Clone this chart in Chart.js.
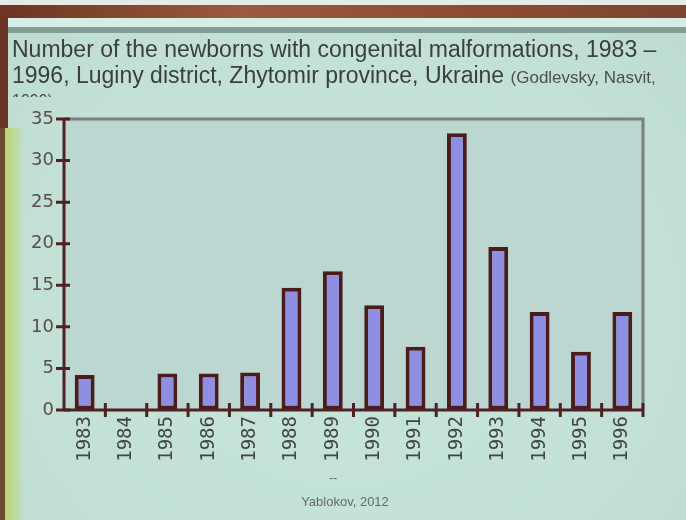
<!DOCTYPE html>
<html>
<head>
<meta charset="utf-8">
<script src="https://cdn.jsdelivr.net/npm/chart.js@4.4.1/dist/chart.umd.min.js"></script>
<style>
html,body{margin:0;padding:0;width:686px;height:520px;overflow:hidden;background:#c4e2d9;}
#wrap{position:relative;width:686px;height:520px;overflow:hidden;
  background:radial-gradient(ellipse at 50% 60%, #c6e5db 0%, #c2e0d6 70%, #bcdbd0 100%);}
.abs{position:absolute;}
#title{left:12px;top:36px;width:674px;height:61px;overflow:hidden;
  font-family:"Liberation Sans",Arial,sans-serif;font-size:23px;line-height:26px;color:#3b3f3e;white-space:nowrap;}
#title .small{font-size:17px;color:#4a4f4e;}
#title .l3{font-size:16px;line-height:20px;color:#4a4f4e;}
#foot1,#foot2{font-family:"Liberation Sans",Arial,sans-serif;color:#666b69;white-space:nowrap;}
</style>
</head>
<body>
<div id="wrap">
  <div class="abs" style="left:0;top:0;width:686px;height:5px;background:#e4ebe6"></div>
  <div class="abs" style="left:0;top:5px;width:686px;height:13px;background:linear-gradient(90deg,#6e3422,#9a5a3c 35%,#8c4c32 70%,#7e4430)"></div>
  <div class="abs" style="left:0;top:18px;width:686px;height:9px;background:#d4ede5"></div>
  <div class="abs" style="left:0;top:27px;width:686px;height:6px;background:#849d94"></div>
  <div class="abs" style="left:0;top:18px;width:8px;height:110px;background:#6a3424"></div>
  <div class="abs" style="left:0;top:128px;width:5px;height:392px;background:#6b4a30"></div>
  <div class="abs" style="left:5px;top:128px;width:20px;height:392px;background:linear-gradient(90deg,#b7d66c,rgba(196,226,217,0))"></div>
  <canvas id="c" class="abs" width="686" height="520" style="left:0;top:0;width:686px;height:520px"></canvas>
  <div id="title" class="abs">
    <div>Number of the newborns with congenital malformations, 1983 –</div>
    <div>1996, Luginy district, Zhytomir province, Ukraine <span class="small">(Godlevsky, Nasvit,</span></div>
    <div class="l3">1999)</div>
  </div>
  <div id="foot1" class="abs" style="left:318px;top:470px;width:30px;text-align:center;font-size:13px;">--</div>
  <div id="foot2" class="abs" style="left:285px;top:494px;width:120px;text-align:center;font-size:13px;">Yablokov, 2012</div>
</div>
<script>
const years = ['1983','1984','1985','1986','1987','1988','1989','1990','1991','1992','1993','1994','1995','1996'];
const cases = [4.2, 0, 4.4, 4.4, 4.5, 14.7, 16.7, 12.6, 7.6, 33.3, 19.6, 11.8, 7.0, 11.8];
const yMin = 0, yMax = 35, yStep = 5;

const frameAndTicks = {
  id: 'frameAndTicks',
  beforeDatasetsDraw(chart) {
    const {ctx, chartArea: a} = chart;
    ctx.save();
    ctx.fillStyle = '#bcd6d1';
    ctx.fillRect(a.left, a.top, a.right - a.left, a.bottom - a.top);
    ctx.restore();
  },
  afterDraw(chart) {
    const {ctx, chartArea: a, scales: {x, y}} = chart;
    ctx.save();
    ctx.strokeStyle = '#7d7f7f';
    ctx.lineWidth = 3;
    ctx.beginPath();
    ctx.moveTo(a.left, a.top);
    ctx.lineTo(a.right, a.top);
    ctx.lineTo(a.right, a.bottom);
    ctx.stroke();
    ctx.strokeStyle = '#4e2222';
    ctx.lineWidth = 3;
    ctx.beginPath();
    y.ticks.forEach((t, i) => {
      const py = y.getPixelForTick(i);
      ctx.moveTo(a.left - 8, py);
      ctx.lineTo(a.left + 6, py);
    });
    for (let i = 0; i < years.length; i++) {
      const px = x.getPixelForValue(i + 0.5);
      ctx.moveTo(px, a.bottom - 7);
      ctx.lineTo(px, a.bottom + 7);
    }
    ctx.stroke();
    ctx.beginPath();
    ctx.moveTo(a.left, a.bottom);
    ctx.lineTo(a.right, a.bottom);
    ctx.moveTo(a.left, a.bottom);
    ctx.lineTo(a.left, a.top);
    ctx.stroke();
    ctx.restore();
  }
};

new Chart(document.getElementById('c'), {
  type: 'bar',
  data: {
    labels: years,
    datasets: [{
      data: cases,
      backgroundColor: '#8e8fe2',
      borderColor: '#4a1c1c',
      borderWidth: 4,
      borderSkipped: false,
      barPercentage: 0.48,
      categoryPercentage: 1
    }]
  },
  options: {
    responsive: false,
    animation: false,
    layout: {padding: {left: 0, right: 43, top: 119, bottom: 0}},
    plugins: {legend: {display: false}, tooltip: {enabled: false}},
    scales: {
      x: {
        grid: {display: true, drawOnChartArea: false, drawTicks: true, tickLength: 6, color: 'transparent', offset: true},
        border: {display: false},
        ticks: {
          minRotation: 90, maxRotation: 90, autoSkip: false, padding: 0,
          color: '#434646',
          font: {family: '"DejaVu Sans Mono", monospace', size: 19}
        },
        afterFit(s) { s.height = 110; }
      },
      y: {
        min: yMin, max: yMax,
        grid: {display: true, drawOnChartArea: false, drawTicks: true, tickLength: 8, color: 'transparent'},
        border: {display: false},
        ticks: {
          stepSize: yStep, padding: 2,
          color: '#5a4d4a',
          font: {family: '"DejaVu Sans", sans-serif', size: 18}
        },
        afterFit(s) { s.width = 64; }
      }
    }
  },
  plugins: [frameAndTicks]
});
</script>
</body>
</html>
